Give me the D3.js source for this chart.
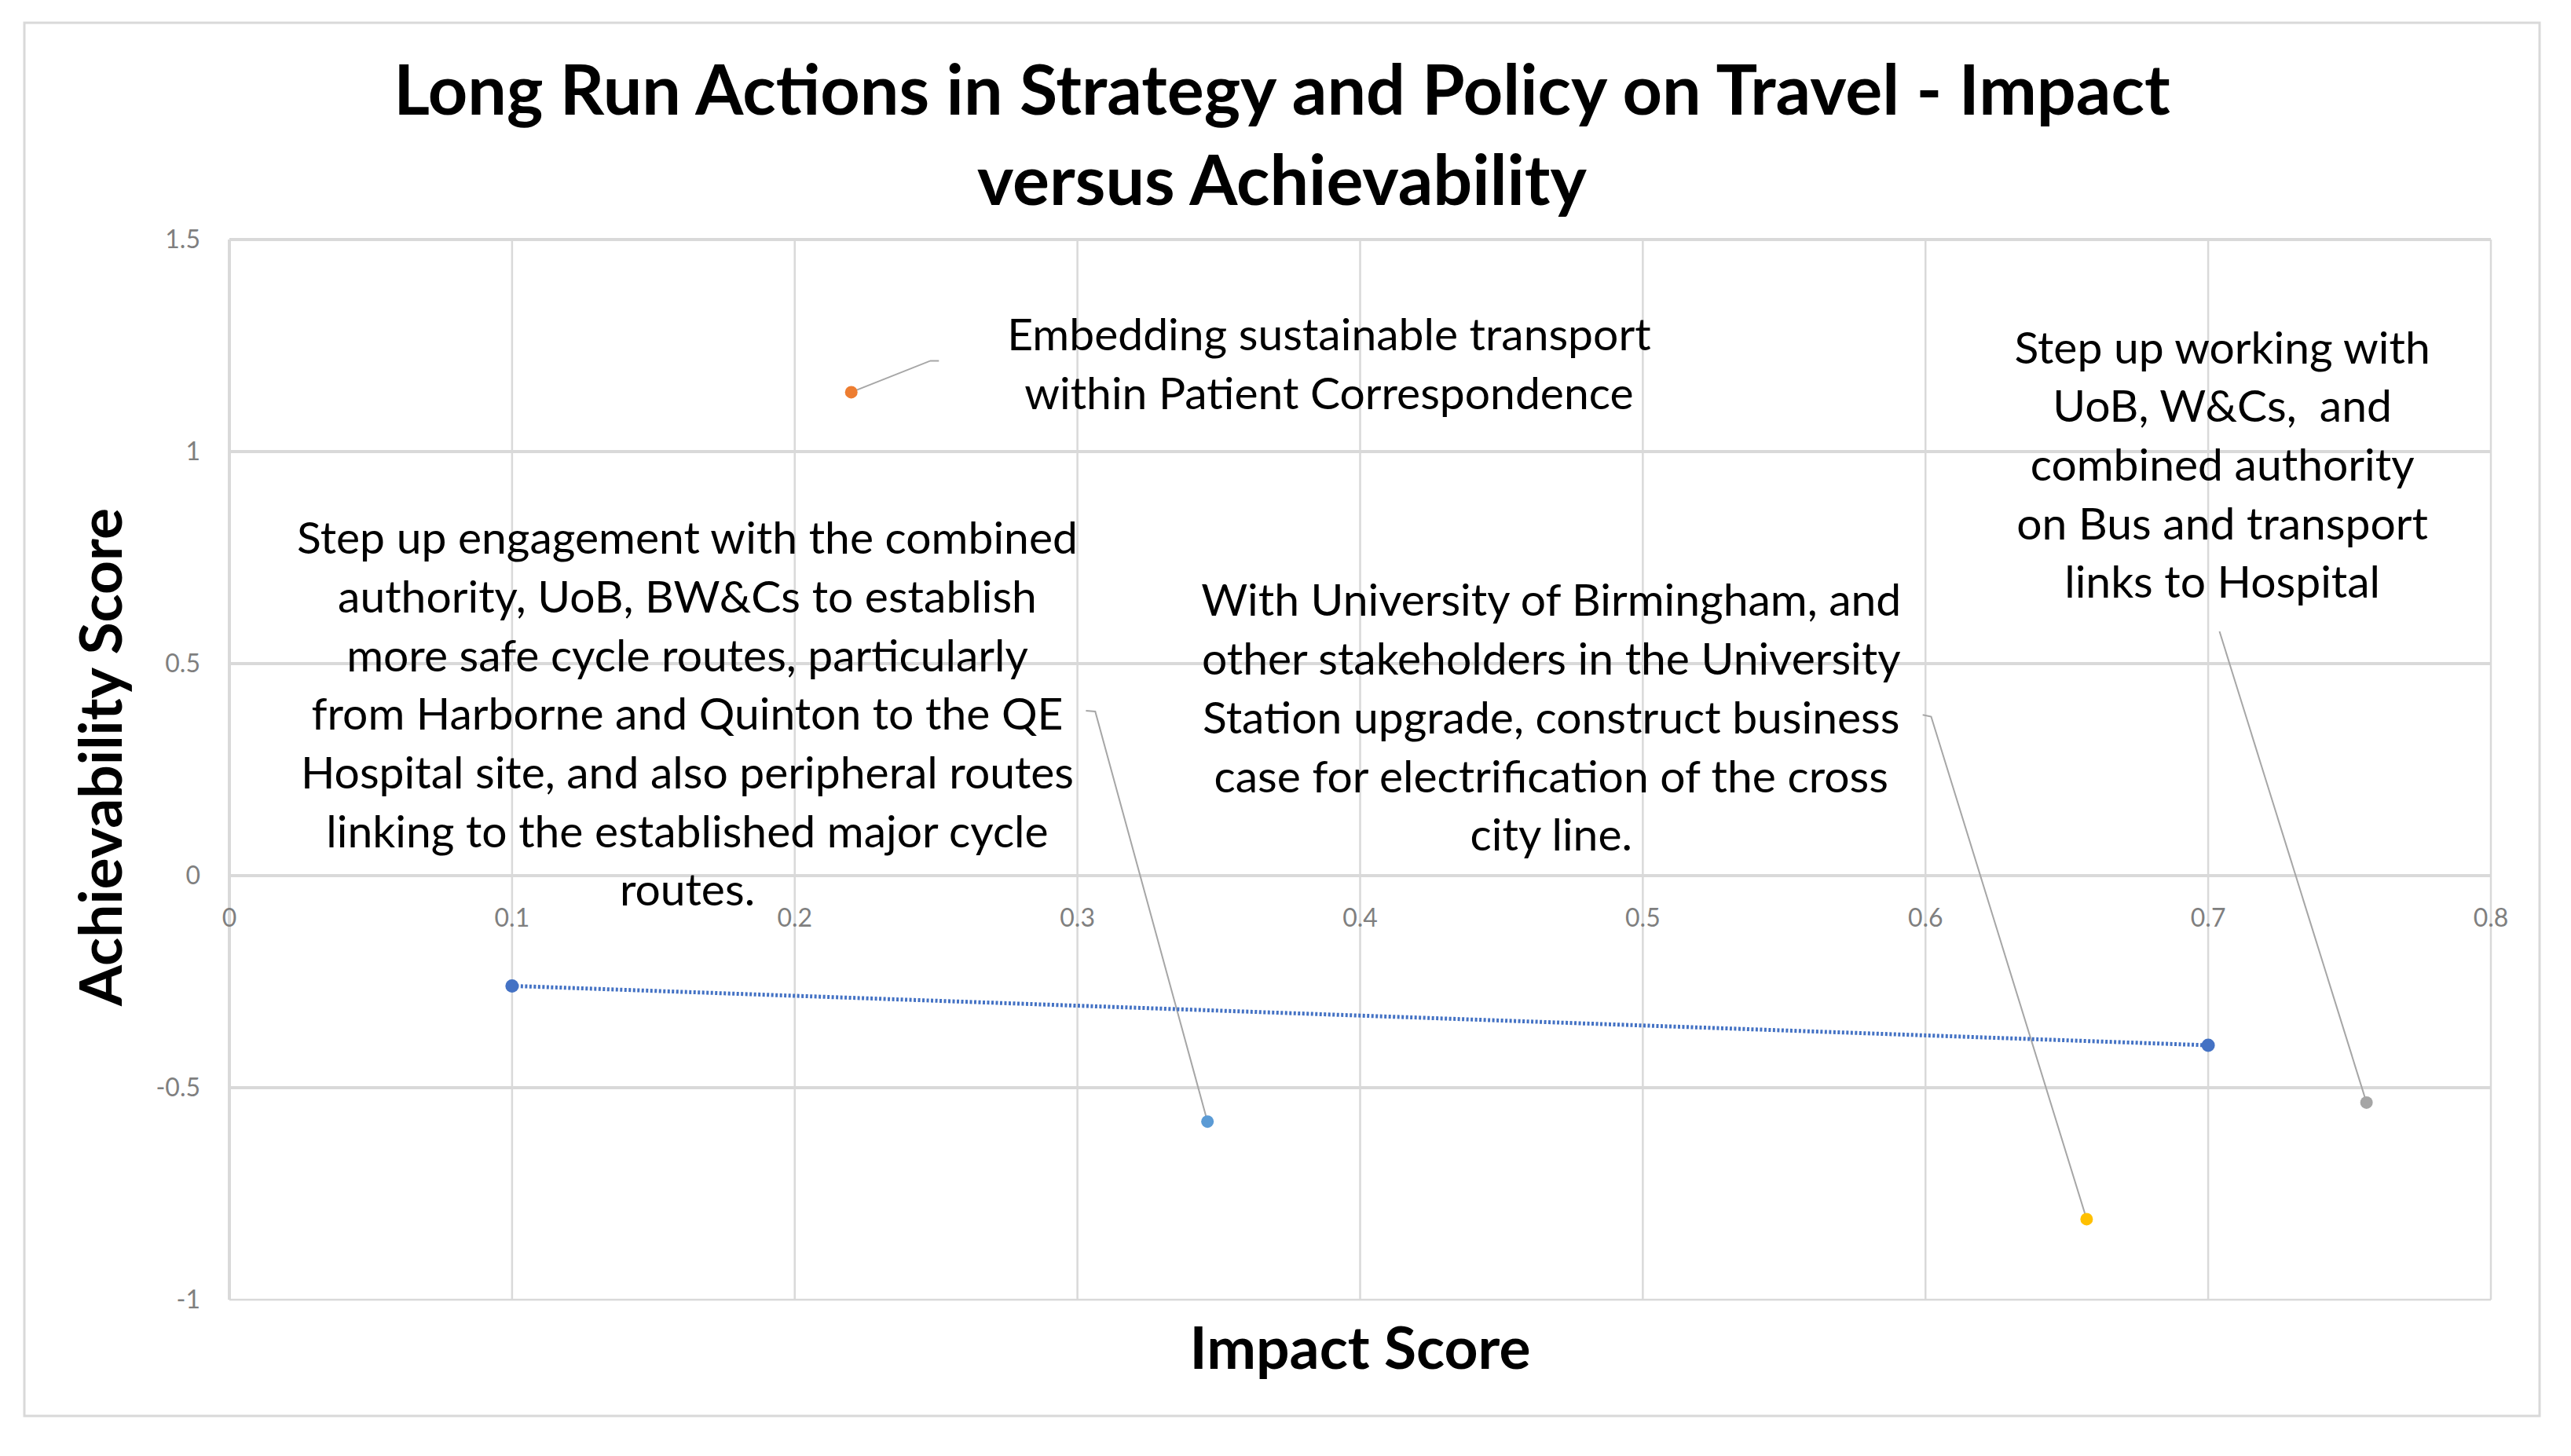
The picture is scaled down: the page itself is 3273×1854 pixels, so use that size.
<!DOCTYPE html>
<html>
<head>
<meta charset="utf-8">
<script src="https://cdn.jsdelivr.net/npm/d3@7"></script>
<style>
    body { margin: 0; background: #fff; }
    text { font-family: Lato, "Open Sans", sans-serif; }
</style>
</head>
<body>
<div id="viz"></div>
<script>
"use strict";
(function(){
    // data
    const titleLines = ["Long Run Actions in Strategy and Policy on Travel - Impact", "versus Achievability"]
    const xTitle = "Impact Score"
    const yTitle = "Achievability Score"
    const xTicks = [0, 0.1, 0.2, 0.3, 0.4, 0.5, 0.6, 0.7, 0.8]
    const yTicks = [-1, -0.5, 0, 0.5, 1, 1.5]

    // the dotted series
    const lineImpact = [0.1, 0.7]
    const lineAchievability = [-0.26, -0.40]

    // single labelled points
    const pointImpact = [0.346, 0.22, 0.657, 0.756]
    const pointAchievability = [-0.58, 1.14, -0.81, -0.535]
    const pointLabels = [
        ["Step up engagement with the combined", "authority, UoB, BW&Cs to establish", "more safe cycle routes, particularly",
         "from Harborne and Quinton to the QE", "Hospital site, and also peripheral routes", "linking to the established major cycle", "routes."],
        ["Embedding sustainable transport", "within Patient Correspondence"],
        ["With University of Birmingham, and", "other stakeholders in the University", "Station upgrade, construct business",
         "case for electrification of the cross", "city line."],
        ["Step up working with", "UoB, W&Cs,  and", "combined authority", "on Bus and transport", "links to Hospital"]
    ]

    // styling / layout
    const pointColors = ["#5B9BD5", "#ED7D31", "#FFC000", "#A5A5A5"]
    const lineColor = "#4472C4"
    // where each label block sits, and where its leader line bends (data units)
    const labelLayout = [
        {cx: 0.162, top: 0.796, elbow: [0.3063, 0.387], end: [0.303, 0.389]},
        {cx: 0.389, top: 1.276, elbow: [0.248, 1.214], end: [0.251, 1.214]},
        {cx: 0.4676, top: 0.649, elbow: [0.602, 0.375], end: [0.599, 0.379]},
        {cx: 0.705, top: 1.245, elbow: [0.704, 0.576], end: null}
    ]

    const measurements = {
        width: 3273,
        height: 1854,
        left: 292,
        right: 3171,
        top: 305,
        bottom: 1655
    }

    const svgContainer = d3.select('#viz').append("svg")
        .attr('width', measurements.width)
        .attr('height', measurements.height);

    // outer chart border
    svgContainer.append('rect')
        .attr('x', 31).attr('y', 29)
        .attr('width', 3202).attr('height', 1774)
        .attr('fill', 'white')
        .attr('stroke', '#D9D9D9')
        .attr('stroke-width', 3);

    const scaleX = d3.scaleLinear()
        .domain([0, 0.8])
        .range([measurements.left, measurements.right])
    const scaleY = d3.scaleLinear()
        .domain([-1, 1.5])
        .range([measurements.bottom, measurements.top])

    // gridlines
    svgContainer.append('g')
        .selectAll('line')
        .data(xTicks)
        .enter()
        .append('line')
            .attr('x1', d => scaleX(d)).attr('x2', d => scaleX(d))
            .attr('y1', measurements.top).attr('y2', measurements.bottom)
            .attr('stroke', '#D9D9D9')
            .attr('stroke-width', d => d === 0 ? 4 : 2.5);

    svgContainer.append('g')
        .selectAll('line')
        .data(yTicks)
        .enter()
        .append('line')
            .attr('x1', measurements.left).attr('x2', measurements.right)
            .attr('y1', d => scaleY(d)).attr('y2', d => scaleY(d))
            .attr('stroke', '#D9D9D9')
            .attr('stroke-width', d => d === -1 ? 2.5 : 4);

    // y tick labels
    svgContainer.append('g')
        .selectAll('text')
        .data(yTicks)
        .enter()
        .append('text')
            .attr('x', 255)
            .attr('y', d => scaleY(d))
            .attr('dy', '0.35em')
            .attr('text-anchor', 'end')
            .attr('fill', '#7F7F7F')
            .attr('font-size', 32)
            .text(d => d);

    // x tick labels sit under the zero line
    svgContainer.append('g')
        .selectAll('text')
        .data(xTicks)
        .enter()
        .append('text')
            .attr('x', d => scaleX(d))
            .attr('y', scaleY(0) + 54)
            .attr('dy', '0.35em')
            .attr('text-anchor', 'middle')
            .attr('fill', '#7F7F7F')
            .attr('font-size', 32)
            .text(d => d);

    // leader lines
    const leader = svgContainer.append('g')
    pointImpact.forEach(function(v, i) {
        const lay = labelLayout[i]
        let pts = [[scaleX(v), scaleY(pointAchievability[i])], [scaleX(lay.elbow[0]), scaleY(lay.elbow[1])]]
        if (lay.end) pts.push([scaleX(lay.end[0]), scaleY(lay.end[1])])
        leader.append('path')
            .attr('d', d3.line()(pts))
            .attr('fill', 'none')
            .attr('stroke', '#A6A6A6')
            .attr('stroke-width', 2);
    })

    // dotted series line
    const linePts = lineImpact.map((v, i) => [scaleX(v), scaleY(lineAchievability[i])])
    svgContainer.append('path')
        .attr('d', d3.line()(linePts))
        .attr('fill', 'none')
        .attr('stroke', lineColor)
        .attr('stroke-width', 5)
        .attr('stroke-dasharray', '3,2.5');

    svgContainer.append('g')
        .selectAll('circle')
        .data(linePts)
        .enter()
        .append('circle')
            .attr('cx', d => d[0])
            .attr('cy', d => d[1])
            .attr('r', 8.5)
            .attr('fill', lineColor);

    // single points
    svgContainer.append('g')
        .selectAll('circle')
        .data(pointImpact)
        .enter()
        .append('circle')
            .attr('cx', d => scaleX(d))
            .attr('cy', (d, i) => scaleY(pointAchievability[i]))
            .attr('r', 8)
            .attr('fill', (d, i) => pointColors[i]);

    // point labels
    const lineGap = 74.7
    pointLabels.forEach(function(lines, i) {
        const lay = labelLayout[i]
        svgContainer.append('g')
            .selectAll('text')
            .data(lines)
            .enter()
            .append('text')
                .attr('x', scaleX(lay.cx))
                .attr('y', (d, j) => scaleY(lay.top) + j * lineGap)
                .attr('dy', '0.35em')
                .attr('text-anchor', 'middle')
                .attr('fill', '#000')
                .attr('font-size', 57)
                .style('white-space', 'pre')
                .text(d => d);
    })

    /* titles */
    svgContainer.append('g')
        .selectAll('text')
        .data(titleLines)
        .enter()
        .append('text')
            .attr('x', 1632)
            .attr('y', (d, i) => 146 + i * 115)
            .attr('text-anchor', 'middle')
            .attr('font-weight', 'bold')
            .attr('font-size', 88)
            .attr('fill', '#000')
            .text(d => d);

    svgContainer.append('text')
        .attr('x', (measurements.left + measurements.right) / 2)
        .attr('y', 1743)
        .attr('text-anchor', 'middle')
        .attr('font-weight', 'bold')
        .attr('font-size', 75)
        .attr('fill', '#000')
        .text(xTitle)

    svgContainer.append('text')
        .attr('transform', 'translate(155, 964) rotate(270)')
        .attr('text-anchor', 'middle')
        .attr('font-weight', 'bold')
        .attr('font-size', 75)
        .attr('fill', '#000')
        .text(yTitle)
})()
</script>
</body>
</html>
